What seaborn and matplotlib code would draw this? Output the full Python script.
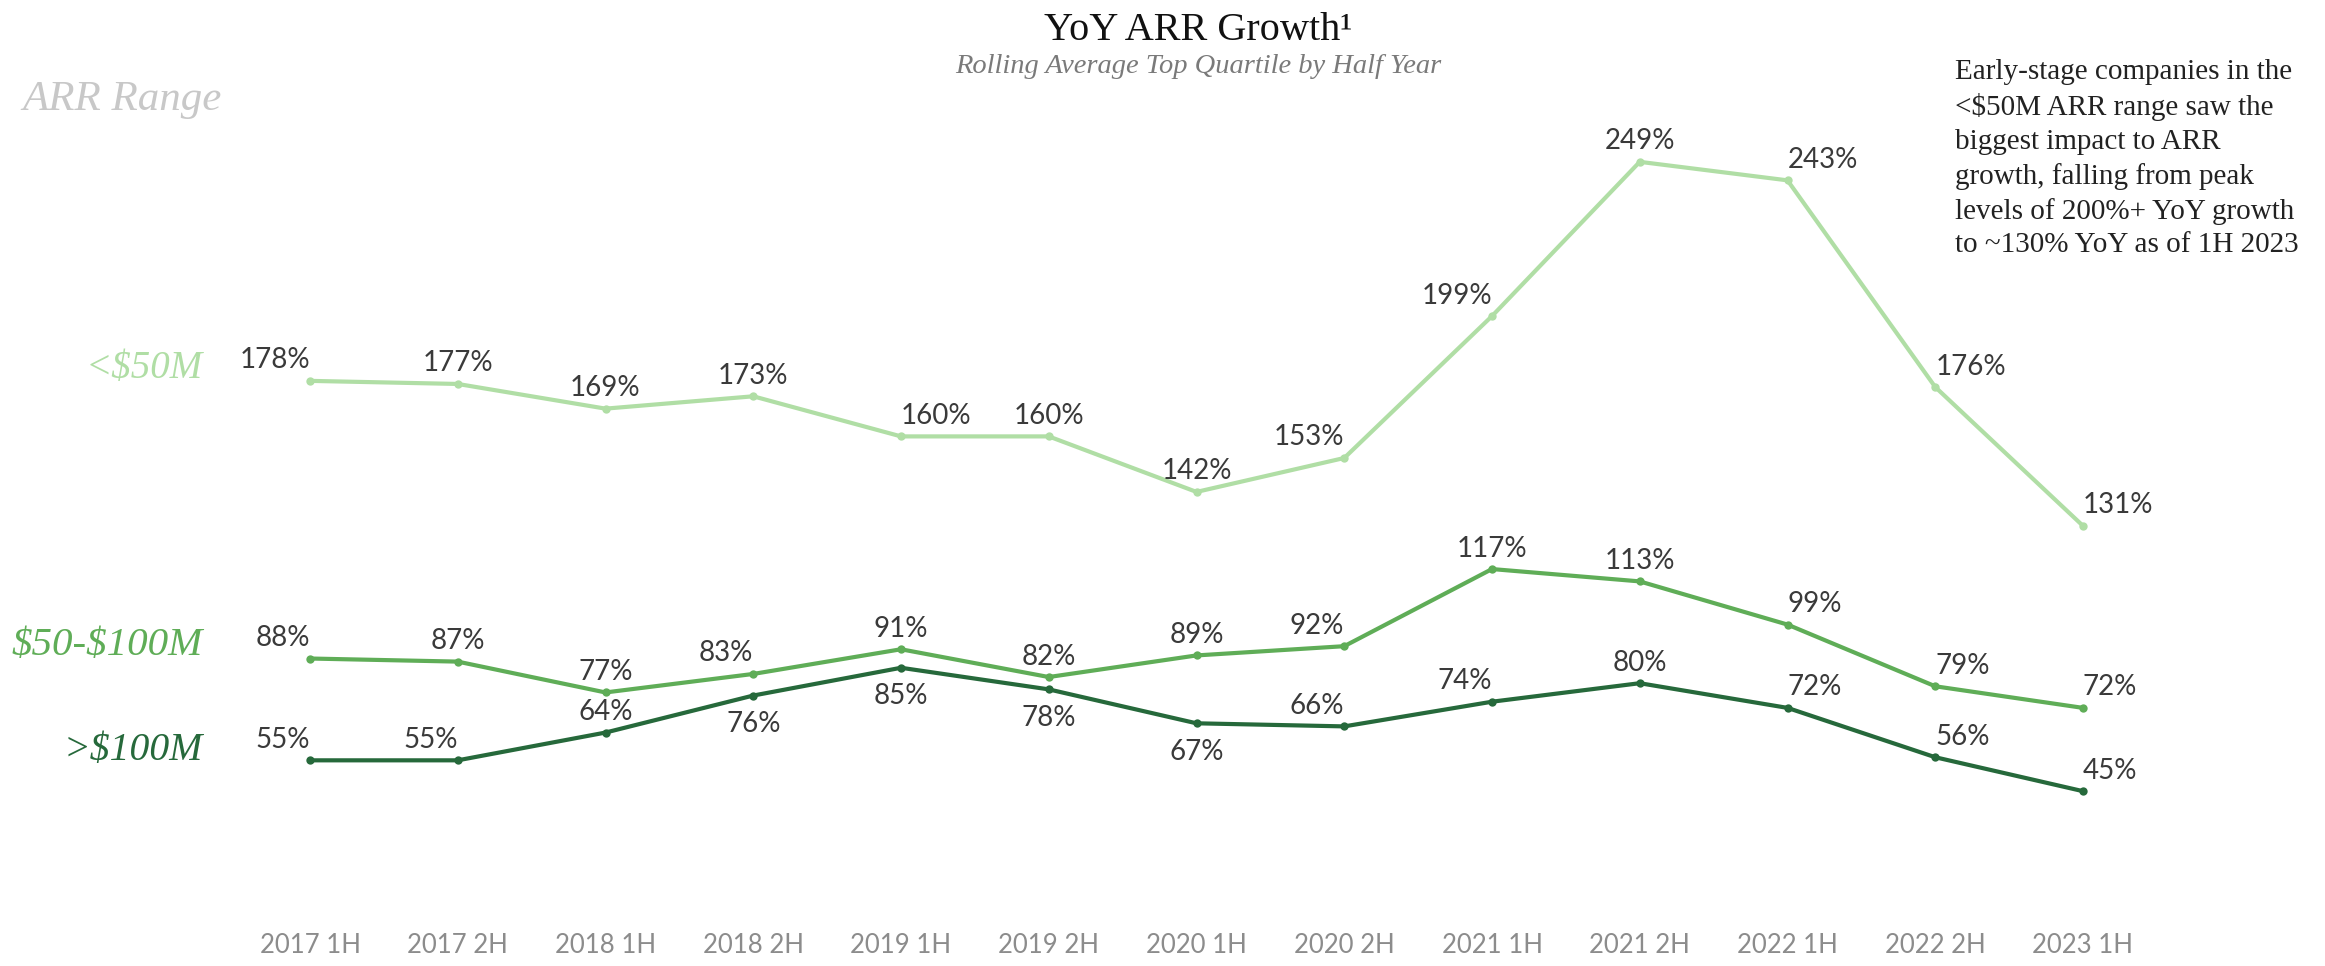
import matplotlib
matplotlib.use("Agg")
import matplotlib.pyplot as plt
import seaborn as sns
import pandas as pd

# ---- data ----
periods = ["2017 1H", "2017 2H", "2018 1H", "2018 2H", "2019 1H", "2019 2H", "2020 1H",
           "2020 2H", "2021 1H", "2021 2H", "2022 1H", "2022 2H", "2023 1H"]
series_names = ["<$50M", "$50-$100M", ">$100M"]
lt50 = [178, 177, 169, 173, 160, 160, 142, 153, 199, 249, 243, 176, 131]
mid50_100 = [88, 87, 77, 83, 91, 82, 89, 92, 117, 113, 99, 79, 72]
gt100 = [55, 55, 64, 76, 85, 78, 67, 66, 74, 80, 72, 56, 45]

title = "YoY ARR Growth\u00b9"
subtitle = "Rolling Average Top Quartile by Half Year"
legend_title = "ARR Range"
note = ("Early-stage companies in the\n<$50M ARR range saw the\nbiggest impact to ARR\n"
        "growth, falling from peak\nlevels of 200%+ YoY growth\nto ~130% YoY as of 1H 2023")

# ---- style ----
colors = ["#b0dea5", "#5fad57", "#26693b"]
# label placement: R/C/L = alignment above the point, B = centred below
place = [
    ["R", "C", "C", "C", "L", "C", "C", "R", "R", "C", "L", "L", "L"],
    ["R", "C", "C", "R", "C", "C", "C", "R", "C", "C", "L", "L", "L"],
    ["R", "R", "C", "B", "B", "B", "B", "R", "R", "C", "L", "L", "L"],
]

W, H = 2325, 966
sns.set_theme(style="white")
plt.rcParams["font.family"] = ["Lato", "DejaVu Sans"]
plt.rcParams["text.parse_math"] = False

fig = plt.figure(figsize=(W / 100, H / 100), dpi=100)
ax = fig.add_axes([0, 36 / H, 1, 930 / H])

values = [lt50, mid50_100, gt100]
df = pd.DataFrame({
    "x": list(range(len(periods))) * 3,
    "v": lt50 + mid50_100 + gt100,
    "series": sum([[s] * len(periods) for s in series_names], []),
})
sns.lineplot(data=df, x="x", y="v", hue="series", palette=dict(zip(series_names, colors)),
             marker="o", markersize=6, markeredgewidth=0, linewidth=3, legend=False, ax=ax)

step = 147.75
x0 = 310
ax.set_xlim(-x0 / step, (W - x0) / step)
ax.set_ylim(0, 930 / 3.085)
ax.set_xticks(range(len(periods)))
ax.set_xticklabels(periods, fontsize=18.5, color="#8c8c8c")
ax.tick_params(axis="x", length=0, pad=2)
ax.set_yticks([])
ax.set_xlabel("")
ax.set_ylabel("")
for s in ax.spines.values():
    s.set_visible(False)

for vals, pl in zip(values, place):
    for i, (v, p) in enumerate(zip(vals, pl)):
        if p == "B":
            ax.annotate(f"{v}%", (i, v), xytext=(0, -11), textcoords="offset points",
                        ha="center", va="top", fontsize=20, color="#3a3a3a")
        else:
            ha = {"R": "right", "C": "center", "L": "left"}[p]
            ax.annotate(f"{v}%", (i, v), xytext=(0, 9), textcoords="offset points",
                        ha=ha, va="baseline", fontsize=20, color="#3a3a3a")

def fx(px):
    return px / W

def fy(py):
    return 1 - py / H

serif = ["Liberation Serif", "DejaVu Serif"]
fig.text(fx(1198), fy(40), title, ha="center", va="baseline", fontsize=29, color="#111111", family=serif)
fig.text(fx(1198), fy(73), subtitle, ha="center", va="baseline", fontsize=20.5, color="#7a7a7a",
         family=serif, style="italic")
fig.text(fx(22), fy(110), legend_title, ha="left", va="baseline", fontsize=31, color="#c8c8c8",
         family=serif, style="italic")
label_y = [378, 655, 760]
label_size = [28, 29.5, 28.5]
for name, c, yy, fs in zip(series_names, colors, label_y, label_size):
    fig.text(fx(203), fy(yy), name, ha="right", va="baseline", fontsize=fs, color=c,
             family=serif, style="italic")
fig.text(fx(1955), fy(59), note, ha="left", va="top", fontsize=21, color="#222222",
         family=serif, linespacing=1.38)

fig.savefig("out.png", dpi=100, facecolor="white")
